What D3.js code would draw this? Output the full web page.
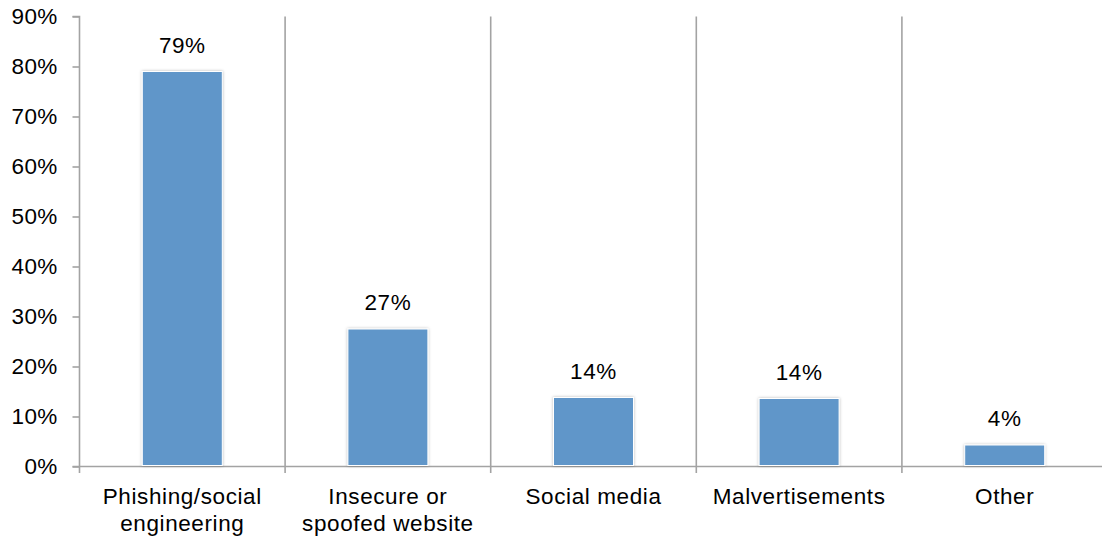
<!DOCTYPE html>
<html><head><meta charset="utf-8">
<script src="https://cdn.jsdelivr.net/npm/d3@7"></script>
<style>html,body{margin:0;padding:0;background:#fff;}svg{display:block;font-family:"Liberation Sans",Arial,sans-serif;}</style>
</head><body>
<svg id="c" width="1102" height="539"></svg>
<script>
const categories = [["Phishing/social","engineering"],["Insecure or","spoofed website"],["Social media"],["Malvertisements"],["Other"]];
const values = [79, 27.5, 13.8, 13.6, 4.3];
const labels = ["79%","27%","14%","14%","4%"];
const yTicks = [0,10,20,30,40,50,60,70,80,90];

const svg = d3.select("#c");
const plotLeft = 79.5, bandW = 205.6, plotTop = 16.5, plotBottom = 466.5;
const x = d3.scaleBand().domain(d3.range(categories.length)).range([plotLeft, plotLeft + bandW*categories.length]).paddingInner(0).paddingOuter(0);
const y = d3.scaleLinear().domain([0,90]).range([plotBottom, plotTop]);
const grey = "#a3a3a3";
const fs = "22.5px", ls = "0.6px";

const defs = svg.append("defs");
const f = defs.append("filter").attr("id","sh").attr("x","-20%").attr("y","-20%").attr("width","140%").attr("height","140%");
f.append("feDropShadow").attr("dx",0).attr("dy",0).attr("stdDeviation",1.6).attr("flood-color","#000").attr("flood-opacity",0.28);

// vertical separators
const seps = d3.range(categories.length+1).map(i => plotLeft + i*bandW);
svg.selectAll("line.sep").data(seps.slice(1)).enter().append("line")
  .attr("x1",d=>d).attr("x2",d=>d).attr("y1",plotTop).attr("y2",plotBottom+6.5)
  .attr("stroke",grey).attr("stroke-width",1.6);

// y axis
const yAxis = d3.axisLeft(y).tickValues(yTicks).tickFormat(d=>d+"%").tickSize(7).tickPadding(15);
const ya = svg.append("g").attr("transform",`translate(${plotLeft},0)`).call(yAxis);
ya.select(".domain").attr("stroke",grey).attr("stroke-width",1.6).attr("d",`M-7,${plotTop}H0V${plotBottom+6.5}`);
ya.selectAll(".tick line").attr("stroke",grey).attr("stroke-width",1.6);
ya.selectAll(".tick text").attr("font-size",fs).attr("letter-spacing","0.3px").attr("fill","#000").attr("font-family","Liberation Sans, Arial, sans-serif");

// x axis baseline
svg.append("line").attr("x1",plotLeft-7).attr("x2",1102).attr("y1",plotBottom).attr("y2",plotBottom).attr("stroke",grey).attr("stroke-width",1.6);

// bars
const bw = 80;
svg.selectAll("rect.bar").data(values).enter().append("rect")
  .attr("x",(d,i)=>x(i)+x.bandwidth()/2-bw/2).attr("width",bw)
  .attr("y",d=>y(d)).attr("height",d=>y(0)-y(d)-1)
  .attr("fill","#6096c9").attr("stroke","#fff").attr("stroke-width",1).attr("filter","url(#sh)");

// value labels
svg.selectAll("text.val").data(values).enter().append("text")
  .attr("x",(d,i)=>x(i)+x.bandwidth()/2).attr("y",d=>y(d)-19)
  .attr("text-anchor","middle").attr("font-size",fs).attr("letter-spacing",ls).attr("fill","#000")
  .text((d,i)=>labels[i]);

// category labels
categories.forEach((lines,i)=>{
  const t = svg.append("text").attr("x",x(i)+x.bandwidth()/2).attr("y",504)
    .attr("text-anchor","middle").attr("font-size",fs).attr("letter-spacing",ls).attr("fill","#000");
  lines.forEach((l,j)=>t.append("tspan").attr("x",x(i)+x.bandwidth()/2).attr("dy",j===0?0:27).text(l));
});
</script>
</body></html>
